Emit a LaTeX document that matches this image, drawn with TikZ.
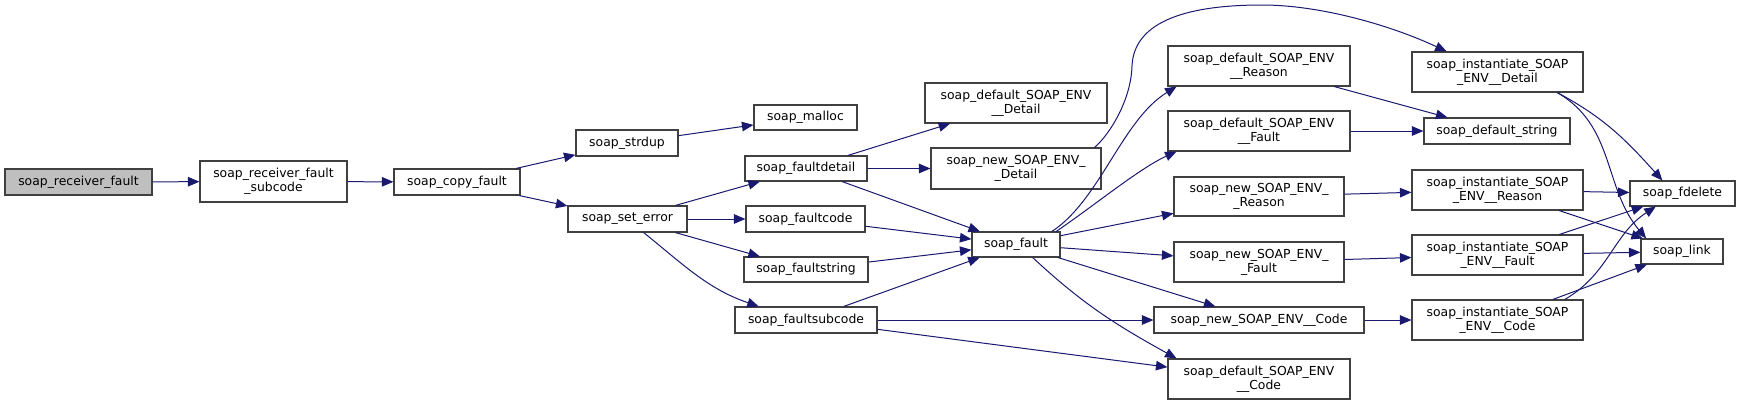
\documentclass[tikz,border=0pt]{standalone}
\usepackage{fontspec}
\setmainfont{DejaVu Sans}
\usetikzlibrary{arrows.meta}
\definecolor{edgeblue}{HTML}{191970}
\definecolor{boxline}{HTML}{404040}
\definecolor{rootfill}{HTML}{BFBFBF}
\tikzset{
  box/.style={draw=boxline, line width=1.1pt, fill=white, inner sep=0pt, align=center,
    font=\fontsize{12.4}{14}\selectfont},
  edge/.style={draw=edgeblue, line width=1pt, -{Triangle[length=11.5pt,width=9.5pt]}, fill=none},
}
\newcommand\mybox[7][]{%
  \node[box,#1,minimum width={(#5-#3)*1pt},minimum height={(#6-#4)*1pt}] (#2) at ({(#3+#5)/2},{-(#4+#6)/2}) {#7};}
\begin{document}
\begin{tikzpicture}[x=1pt,y=1pt]
\useasboundingbox (0,0) rectangle (1740,-405);
\mybox[fill=rootfill]{rf}{5}{169}{152}{195}{soap\_receiver\_fault}
\mybox{rfs}{200}{161}{347}{202}{soap\_receiver\_fault\\\_subcode}
\mybox{cf}{394}{169}{520}{195}{soap\_copy\_fault}
\mybox{sd}{576}{130}{678}{156}{soap\_strdup}
\mybox{ma}{754}{105}{857}{130}{soap\_malloc}
\mybox{se}{568}{206}{687}{232}{soap\_set\_error}
\mybox{fd}{745}{156}{867}{181}{soap\_faultdetail}
\mybox{fc}{746}{206}{865}{232}{soap\_faultcode}
\mybox{fs}{744}{257}{868}{282}{soap\_faultstring}
\mybox{fsc}{735}{307}{877}{333}{soap\_faultsubcode}
\mybox{dd}{925}{83}{1107}{123}{soap\_default\_SOAP\_ENV\\\_\_Detail}
\mybox{nd}{931}{148}{1101}{189}{soap\_new\_SOAP\_ENV\_\\\_Detail}
\mybox{fa}{972}{232}{1060}{257}{soap\_fault}
\mybox{dr}{1168}{46}{1350}{86}{soap\_default\_SOAP\_ENV\\\_\_Reason}
\mybox{df}{1168}{111}{1350}{151}{soap\_default\_SOAP\_ENV\\\_\_Fault}
\mybox{nr}{1174}{177}{1344}{216}{soap\_new\_SOAP\_ENV\_\\\_Reason}
\mybox{nf}{1174}{242}{1344}{282}{soap\_new\_SOAP\_ENV\_\\\_Fault}
\mybox{nc}{1154}{307}{1364}{333}{soap\_new\_SOAP\_ENV\_\_Code}
\mybox{dc}{1168}{359}{1350}{399}{soap\_default\_SOAP\_ENV\\\_\_Code}
\mybox{id}{1412}{52}{1583}{92}{soap\_instantiate\_SOAP\\\_ENV\_\_Detail}
\mybox{ds}{1424}{118}{1570}{144}{soap\_default\_string}
\mybox{ir}{1412}{170}{1583}{210}{soap\_instantiate\_SOAP\\\_ENV\_\_Reason}
\mybox{ifa}{1412}{235}{1583}{275}{soap\_instantiate\_SOAP\\\_ENV\_\_Fault}
\mybox{ic}{1412}{300}{1583}{340}{soap\_instantiate\_SOAP\\\_ENV\_\_Code}
\mybox{fdl}{1630}{181}{1735}{206}{soap\_fdelete}
\mybox{lk}{1641}{239}{1723}{264}{soap\_link}
% edges
\draw[edge] (rf) -- (rfs);
\draw[edge] (rfs) -- (cf);
\draw[edge] (cf) -- (sd);
\draw[edge] (cf) -- (se);
\draw[edge] (sd) -- (ma);
\draw[edge] (se) -- (fd);
\draw[edge] (se) -- (fc);
\draw[edge] (se) -- (fs);
\draw[edge] (se.-40) to[out=-39,in=161] (fsc.164.5);
\draw[edge] (fd) -- (dd);
\draw[edge] (fd) -- (nd);
\draw[edge] (fd) -- (fa);
\draw[edge] (fc) -- (fa);
\draw[edge] (fs) -- (fa);
\draw[edge] (fsc) -- (fa);
\draw[edge] (fsc) -- (nc);
\draw[edge] (fsc) -- (dc);
\draw[edge] (nd.15.5) .. controls (1110,-134) and (1131,-100) .. (1132,-66)
  .. controls (1134,-20) and (1190,-5) .. (1262,-5)
  .. controls (1320,-5) and (1390,-25) .. (id.158.4);
\draw[edge] (fa.20) .. controls (1100,-200) and (1122,-120) .. (dr.194);
\draw[edge] (fa.18) .. controls (1095,-205) and (1140,-168) .. (df.194.6);
\draw[edge] (fa) -- (nr);
\draw[edge] (fa) -- (nf);
\draw[edge] (fa) -- (nc);
\draw[edge] (fa.-38) to[out=-43,in=151] (dc.166.6);
\draw[edge] (dr) -- (ds);
\draw[edge] (df) -- (ds);
\draw[edge] (nr) -- (ir);
\draw[edge] (nf) -- (ifa);
\draw[edge] (nc) -- (ic);
\draw[edge] (id.-19) to[out=-28,in=132] (fdl.147);
\draw[edge] (id.-19) to[out=-30,in=130] (lk.160);
\draw[edge] (ir) -- (fdl);
\draw[edge] (ir) -- (lk);
\draw[edge] (ifa) -- (fdl);
\draw[edge] (ifa) -- (lk);
\draw[edge] (ic.17) to[out=30,in=-147] (fdl.206);
\draw[edge] (ic) -- (lk);
\end{tikzpicture}
\end{document}
